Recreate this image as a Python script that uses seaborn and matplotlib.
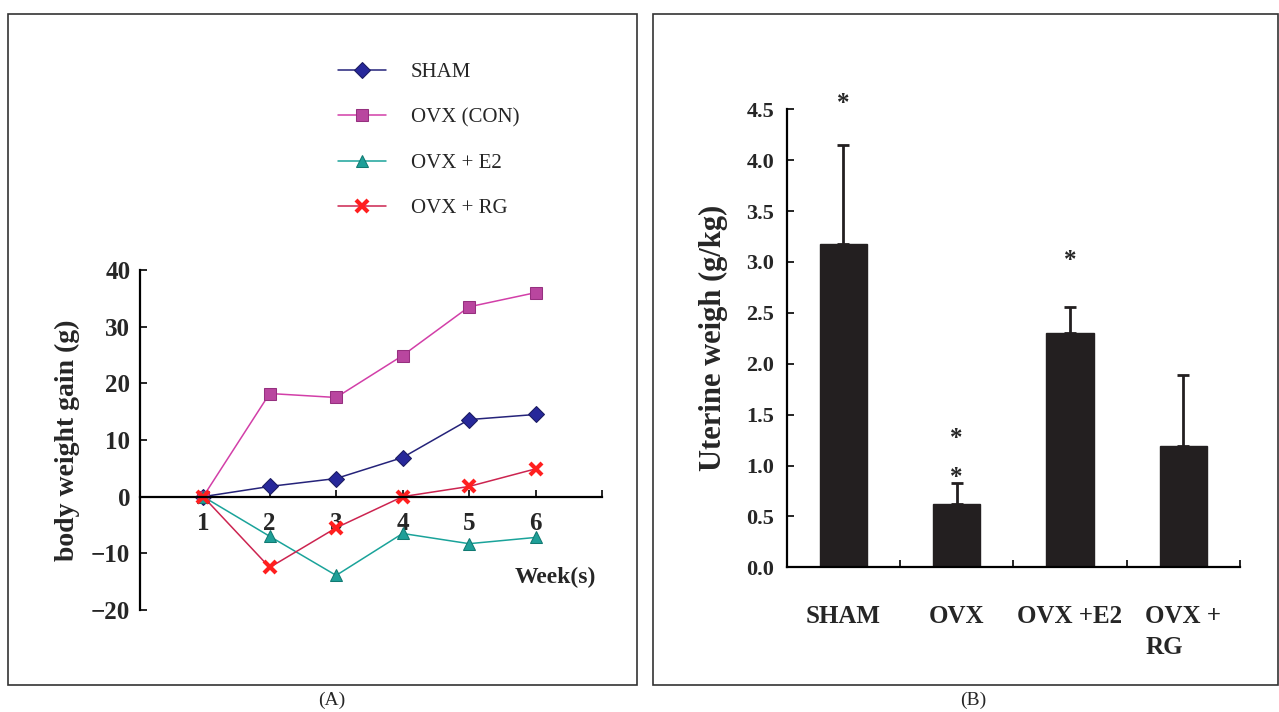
import matplotlib
matplotlib.use("Agg")
import matplotlib.pyplot as plt
from matplotlib.patches import Rectangle
import seaborn as sns
import pandas as pd

# ---- data ----
weeks = [1, 2, 3, 4, 5, 6]
sham = [0, 1.8, 3.2, 6.9, 13.6, 14.5]
ovx_con = [0, 18.2, 17.5, 24.9, 33.5, 36.0]
ovx_e2 = [0, -7.0, -13.9, -6.5, -8.3, -7.2]
ovx_rg = [0, -12.5, -5.5, 0.0, 1.8, 4.9]
series_names = ["SHAM", "OVX (CON)", "OVX + E2", "OVX + RG"]

groups = ["SHAM", "OVX", "OVX +E2", "OVX +\nRG"]
uterine_mean = [3.18, 0.625, 2.30, 1.195]
uterine_err = [0.97, 0.20, 0.26, 0.695]
star_group = [0, 1, 1, 2]
star_y = [4.56, 1.27, 0.88, 3.01]

sns.set_style("white")
plt.rcParams['font.family'] = ['Liberation Serif', 'DejaVu Serif']
plt.rcParams['axes.unicode_minus'] = True

fig = plt.figure(figsize=(12.79, 7.12), dpi=100)

# panel frames
fig.add_artist(Rectangle((0.00625, 0.0379), 0.4918, 0.9424, transform=fig.transFigure,
                         fill=False, edgecolor='#333333', lw=1.2))
fig.add_artist(Rectangle((0.5106, 0.0379), 0.4887, 0.9424, transform=fig.transFigure,
                         fill=False, edgecolor='#333333', lw=1.2))
fig.text(0.2596, 0.016, "(A)", ha='center', va='center', fontsize=14)
fig.text(0.7607, 0.016, "(B)", ha='center', va='center', fontsize=14)

# ---- panel A: body weight gain ----
axA = fig.add_axes([0.1095, 0.1433, 0.3612, 0.4775])
styles = [
    dict(color='#25237a', marker='D', markersize=8, mfc='#27289a', mec='#1b1b60'),
    dict(color='#d23fa8', marker='s', markersize=9, mfc='#b9469f', mec='#96307f'),
    dict(color='#1aa39a', marker='^', markersize=9, mfc='#1e9f98', mec='#117a72'),
    dict(color='#cc2450', marker='x', markersize=9, mec='#ff1f1f', mew=3),
]
for name, vals, st in zip(series_names, [sham, ovx_con, ovx_e2, ovx_rg], styles):
    sns.lineplot(x=weeks, y=vals, ax=axA, label=name, lw=1.1, **st)

axA.set_xlim(0.05, 7)
axA.set_ylim(-20, 40)
axA.spines['top'].set_visible(False)
axA.spines['right'].set_visible(False)
axA.spines['bottom'].set_position(('data', 0))
for s in ['left', 'bottom']:
    axA.spines[s].set_linewidth(1.6)
    axA.spines[s].set_color('black')
axA.set_yticks([-20, -10, 0, 10, 20, 30, 40])
axA.set_xticks([1, 2, 3, 4, 5, 6, 7])
axA.set_xticklabels(["1", "2", "3", "4", "5", "6", ""])
axA.tick_params(axis='y', direction='in', length=5, width=1.4, pad=7,
                left=True, labelsize=18)
axA.tick_params(axis='x', direction='in', length=5, width=1.4, pad=11,
                bottom=True, labelsize=18)
for lab in axA.get_xticklabels() + axA.get_yticklabels():
    lab.set_fontweight('bold')
axA.set_ylabel("body weight gain (g)", fontsize=20, fontweight='bold', labelpad=8)
axA.set_xlabel("")
axA.text(6.3, -14.2, "Week(s)", ha='center', va='center', fontsize=17, fontweight='bold')
axA.legend(loc='upper left', bbox_to_anchor=(0.2643, 0.912), bbox_transform=fig.transFigure,
           frameon=False, fontsize=15, handlelength=2.3, handletextpad=1.2,
           labelspacing=1.24, borderpad=0, borderaxespad=0)

# ---- panel B: uterine weight ----
axB = fig.add_axes([0.6151, 0.2032, 0.3544, 0.6433])
sns.barplot(x=groups, y=uterine_mean, color='#231f20', saturation=1, width=0.42,
            edgecolor='#231f20', ax=axB)
axB.errorbar(range(len(groups)), uterine_mean, yerr=[[0] * len(groups), uterine_err],
             fmt='none', ecolor='#231f20', elinewidth=2, capsize=4.5, capthick=2)
for g, y in zip(star_group, star_y):
    axB.text(g, y, "*", ha='center', va='center', fontsize=18, fontweight='bold',
             clip_on=False)

axB.set_xlim(-0.5, 3.5)
axB.set_ylim(0, 4.5)
axB.set_yticks([0, 0.5, 1.0, 1.5, 2.0, 2.5, 3.0, 3.5, 4.0, 4.5])
axB.set_yticklabels([f"{v:.1f}" for v in axB.get_yticks()])
axB.spines['top'].set_visible(False)
axB.spines['right'].set_visible(False)
for s in ['left', 'bottom']:
    axB.spines[s].set_linewidth(1.6)
    axB.spines[s].set_color('black')
axB.set_xticks([0.5, 1.5, 2.5, 3.5], minor=True)
axB.tick_params(axis='x', which='major', length=0, pad=27, labelsize=18)
axB.tick_params(axis='x', which='minor', direction='in', length=5, width=1.4, bottom=True)
axB.tick_params(axis='y', direction='in', length=5, width=1.4, pad=9, left=True, labelsize=16)
for lab in axB.get_xticklabels() + axB.get_yticklabels():
    lab.set_fontweight('bold')
for lab in axB.get_xticklabels():
    lab.set_multialignment('left')
    lab.set_linespacing(1.45)
axB.set_xlabel("")
axB.set_ylabel("Uterine weigh (g/kg)", fontsize=22, fontweight='bold', labelpad=13)

fig.savefig("out.png", dpi=100)
